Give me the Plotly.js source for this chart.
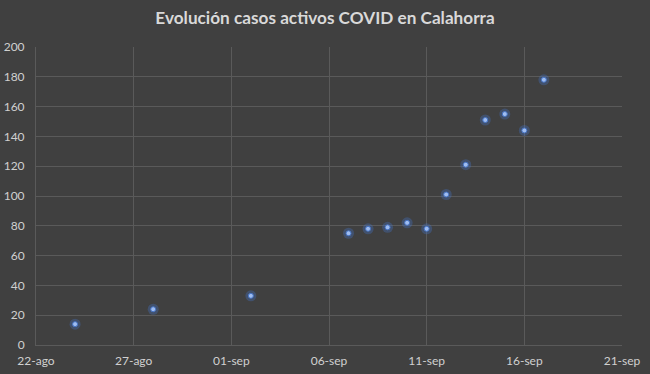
<!DOCTYPE html>
<html><head><meta charset="utf-8">
<script src="https://cdn.plot.ly/plotly-3.0.1.min.js"></script>
<style>html,body{margin:0;padding:0;background:#404040;}#chart{width:650px;height:374px;}</style>
</head><body><div id="chart"></div>
<script>
const dates = ["2020-08-24","2020-08-28","2020-09-02","2020-09-07","2020-09-08","2020-09-09","2020-09-10","2020-09-11","2020-09-12","2020-09-13","2020-09-14","2020-09-15","2020-09-16","2020-09-17"];
const activos = [14,24,33,75,78,79,82,78,101,121,151,155,144,178];
const tickDates = ["2020-08-22","2020-08-27","2020-09-01","2020-09-06","2020-09-11","2020-09-16","2020-09-21"];
const tickLabels = ["22-ago","27-ago","01-sep","06-sep","11-sep","16-sep","21-sep"];
const titleText = "Evolución casos activos COVID en Calahorra";

const glow = {x: dates, y: activos, type: "scatter", mode: "markers", hoverinfo: "skip",
  marker: {size: 11, color: "rgba(68,114,196,0.35)", line: {width: 0}}};
const pts = {x: dates, y: activos, type: "scatter", mode: "markers",
  marker: {size: 5, color: "#9fbdf0", line: {color: "#4472c4", width: 1}}};

const layout = {
  width: 650, height: 374,
  paper_bgcolor: "#404040", plot_bgcolor: "#404040",
  margin: {l: 36, r: 28, t: 47, b: 29},
  showlegend: false,
  font: {family: "Lato, 'Liberation Sans', sans-serif", color: "#d0d0d0", size: 12},
  title: {text: titleText, x: 0.5, xanchor: "center", y: 0.952, yanchor: "middle",
    font: {family: "Lato, sans-serif", size: 17.2, color: "#d9d9d9", weight: "bold"}},
  xaxis: {type: "date", range: ["2020-08-22", "2020-09-21"], tickvals: tickDates, ticktext: tickLabels,
    showgrid: true, gridcolor: "#5a5a5a", gridwidth: 1, zeroline: false,
    showline: true, linecolor: "#5a5a5a", mirror: false, ticks: "", ticklen: 0,
    ticklabelstandoff: 5,
    tickfont: {size: 12, color: "#d0d0d0"}},
  yaxis: {range: [0, 200], dtick: 20, tick0: 0, showgrid: true, gridcolor: "#5a5a5a", gridwidth: 1,
    zeroline: false, showline: true, linecolor: "#5a5a5a", ticks: "", ticklen: 0,
    ticklabelstandoff: 8,
    tickfont: {size: 12, color: "#d0d0d0"}}
};
Plotly.newPlot("chart", [glow, pts], layout, {displayModeBar: false, staticPlot: true});
</script></body></html>
